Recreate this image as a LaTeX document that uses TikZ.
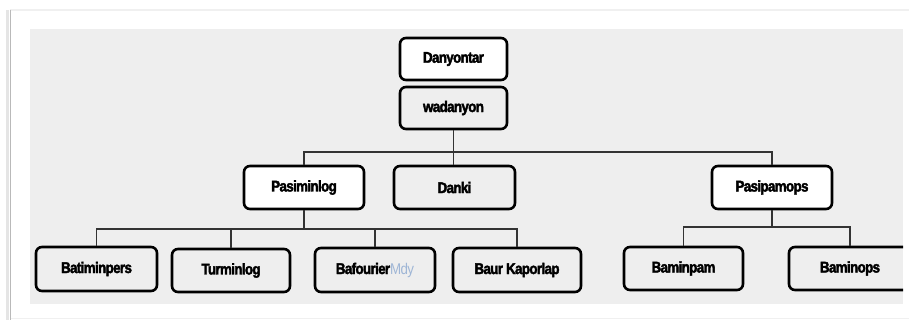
\documentclass[tikz,border=0pt]{standalone}
\usepackage{fontspec}
\setmainfont{Liberation Sans}[FakeStretch=0.86,LetterSpace=-4,BoldFeatures={FakeBold=2.5}]
\definecolor{panel}{HTML}{EEEEEE}
\definecolor{wire}{HTML}{333333}
\definecolor{ghost}{HTML}{9FB6D6}
\begin{document}
\begin{tikzpicture}[x=1pt,y=-1pt,
  orgbox/.style={draw=black,line width=2.6pt,rounded corners=6pt,minimum height=42pt,inner sep=0pt,
     font=\fontsize{15.5}{17}\selectfont\bfseries},
  wbox/.style={orgbox,fill=white},
  wire/.style={draw=wire,line width=1.1pt}]
\useasboundingbox (0,0) rectangle (909,320);
% outer frame
\draw[gray!12,line width=1.5pt] (10,10) -- (909,10);
\draw[gray!12,line width=1.5pt] (10,318.5) -- (909,318.5);
\draw[gray!20,line width=3pt] (7.5,10) -- (7.5,320);
\draw[gray!55,line width=1.2pt] (10.5,10) -- (10.5,320);
% panel
\fill[panel] (30,29) rectangle (903,304);
% nodes
\node[wbox,minimum width=107pt] (dan) at (453.5,59) {Danyontar};
\node[orgbox,minimum width=107pt] (wad) at (453.5,108) {wadanyon};
\node[wbox,minimum width=120pt,minimum height=43pt] (pml) at (304,187.5) {Pasiminlog};
\node[orgbox,minimum width=121pt,minimum height=43pt] (dnk) at (454.5,187.5) {Danki};
\node[wbox,minimum width=120pt,minimum height=43pt] (pps) at (772,187.5) {Pasipamops};
\node[orgbox,minimum width=121pt,minimum height=44pt] (bat) at (96.5,269) {Batiminpers};
\node[orgbox,minimum width=118pt,minimum height=43pt] (tur) at (231,270.5) {Turminlog};
\node[orgbox,minimum width=120pt,minimum height=44pt] (baf) at (375,270) {Bafourier\textcolor{ghost}{\mdseries Mdy}};
\node[orgbox,minimum width=128pt,minimum height=44pt] (bau) at (517,270) {Baur Kaporlap};
\node[orgbox,minimum width=119pt,minimum height=43pt] (bpm) at (683.5,268.5) {Baminpam};
\begin{scope}
\clip (30,29) rectangle (903,304);
\node[orgbox,minimum width=122pt,minimum height=43pt] (bop) at (850,268.5) {Baminops};
\end{scope}
% connectors
\coordinate (bus1) at (453.5,152);
\coordinate (bus2) at (304,229);
\coordinate (bus3) at (772,227);
\draw[wire] (wad.south) -- (wad.south |- dnk.north);
\draw[wire] (pml.north) |- (bus1) -| (pps.north);
\draw[wire] (pml.south) -- (bus2);
\draw[wire] (bat.north) |- (bus2) -| (bau.north);
\draw[wire] (tur.north) -- (tur.north |- bus2);
\draw[wire] (baf.north) -- (baf.north |- bus2);
\draw[wire] (pps.south) -- (bus3);
\draw[wire] (bpm.north) |- (bus3) -| (bop.north);
\end{tikzpicture}
\end{document}
